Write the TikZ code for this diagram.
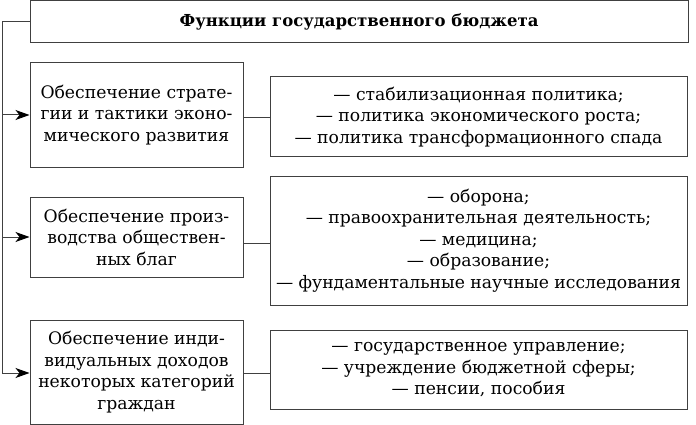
\documentclass[tikz,border=0pt]{standalone}
\usepackage{fontspec}
\setmainfont{DejaVu Serif}
\usetikzlibrary{arrows.meta}
\begin{document}
\begin{tikzpicture}[x=1pt,y=-1pt,
  box/.style={draw=black!75, line width=1pt, inner sep=0pt, align=center,
    font=\fontsize{17.2}{21.5}\selectfont},
  conn/.style={draw=black!75, line width=1pt},
  arr/.style={conn, -{Stealth[length=14pt,width=10pt,inset=4pt,black]}}]
\useasboundingbox (0,0) rectangle (696,425);
\node[box, minimum width=658pt, minimum height=42pt, font=\fontsize{16.5}{21.5}\selectfont\bfseries] (title) at (359,22) {Функции государственного бюджета};
\node[box, minimum width=213pt, minimum height=104pt] (b1) at (136.5,115) {Обеспечение страте-\\гии и тактики эконо-\\мического развития};
\node[box, minimum width=213pt, minimum height=80pt] (b2) at (136.5,237) {Обеспечение произ-\\водства обществен-\\ных благ};
\node[box, minimum width=213pt, minimum height=104pt] (b3) at (136.5,372) {Обеспечение инди-\\видуальных доходов\\некоторых категорий\\граждан};
\node[box, minimum width=417pt, minimum height=80pt] (r1) at (478.5,117) {— стабилизационная политика;\\— политика экономического роста;\\— политика трансформационного спада};
\node[box, minimum width=417pt, minimum height=129pt] (r2) at (478.5,240.5) {— оборона;\\— правоохранительная деятельность;\\— медицина;\\— образование;\\— фундаментальные научные исследования};
\node[box, minimum width=417pt, minimum height=79pt] (r3) at (478.5,370) {— государственное управление;\\— учреждение бюджетной сферы;\\— пенсии, пособия};
\coordinate (top) at (2,22);
\draw[conn] (title.west) -- (top) -- (2,373);
\draw[arr] (2,115) -- (b1.west);
\draw[arr] (2,237) -- (b2.west);
\draw[arr] (2,373) -- (b3.west |- 0,373);
\draw[conn] (b1.east |- 0,118) -- (r1.west |- 0,118);
\draw[conn] (b2.east |- 0,243) -- (r2.west |- 0,243);
\draw[conn] (b3.east |- 0,373) -- (r3.west |- 0,373);
\end{tikzpicture}
\end{document}
